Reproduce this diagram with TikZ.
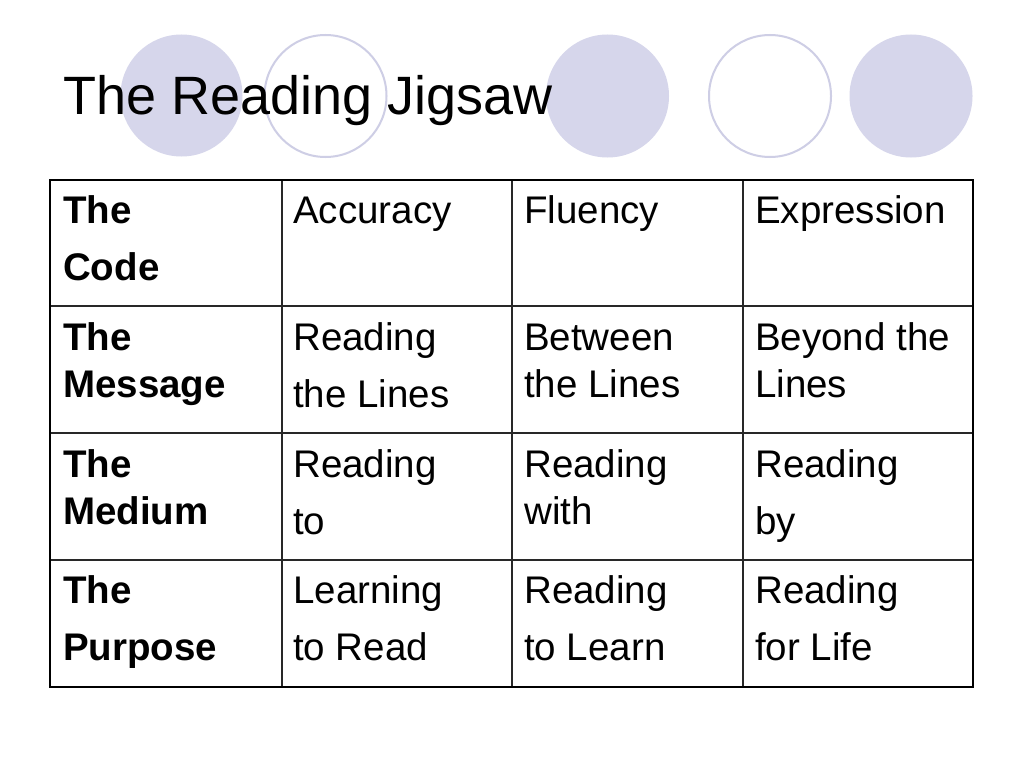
\documentclass[tikz,border=0pt]{standalone}
\usepackage{fontspec}
\setmainfont{Liberation Sans}
\definecolor{lav}{RGB}{214,214,235}
\definecolor{lavline}{RGB}{206,206,229}
\definecolor{gridc}{RGB}{40,40,40}
\tikzset{
  dot/.style={fill=lav, draw=none},
  ring/.style={draw=lavline, line width=2pt, fill=white},
  cell/.style={anchor=base west, inner sep=0pt, font=\fontsize{38.5}{47}\selectfont},
  head/.style={anchor=base west, inner sep=0pt, font=\fontsize{38.5}{47}\selectfont\bfseries},
  inner/.style={draw=gridc, line width=1.5pt},
  outer/.style={draw=black, line width=2.7pt}
}
\newcommand{\cellbox}[1]{\parbox[t]{215pt}{\raggedright #1}}
\begin{document}
\begin{tikzpicture}[x=1pt,y=-1pt]
\useasboundingbox (0,0) rectangle (1024,768);
\fill[white] (0,0) rectangle (1024,768);
% decorative circles
\path[dot] (181.5,95.5) circle (61);
\path[ring] (325.5,96) circle (61);
\path[dot] (607.5,96) circle (61.5);
\path[ring] (770,96) circle (61);
\path[dot] (911,96) circle (61.5);
% title
\node[anchor=base west, inner sep=0pt, font=\fontsize{54}{60}\selectfont] (title) at (63,114) {The Reading Jigsaw};
% grid
\draw[inner] (282,180) -- (282,687);
\draw[inner] (512,180) -- (512,687);
\draw[inner] (743,180) -- (743,687);
\draw[inner] (50,306) -- (973,306);
\draw[inner] (50,433) -- (973,433);
\draw[inner] (50,560) -- (973,560);
\draw[outer] (50,180) rectangle (973,687);
% row 1
\node[head] (c11) at (63,223) {\cellbox{The\\[10pt]Code}};
\node[cell] (c12) at (293,223) {\cellbox{Accuracy}};
\node[cell] (c13) at (524,223) {\cellbox{Fluency}};
\node[cell] (c14) at (755,223) {\cellbox{Expression}};
% row 2
\node[head] (c21) at (63,350) {\cellbox{The\\Message}};
\node[cell] (c22) at (293,350) {\cellbox{Reading\\[10pt]the Lines}};
\node[cell] (c23) at (524,350) {\cellbox{Between\\the Lines}};
\node[cell] (c24) at (755,350) {\cellbox{Beyond the\\Lines}};
% row 3
\node[head] (c31) at (63,477) {\cellbox{The\\Medium}};
\node[cell] (c32) at (293,477) {\cellbox{Reading\\[10pt]to}};
\node[cell] (c33) at (524,477) {\cellbox{Reading\\with}};
\node[cell] (c34) at (755,477) {\cellbox{Reading\\[10pt]by}};
% row 4
\node[head] (c41) at (63,603) {\cellbox{The\\[10pt]Purpose}};
\node[cell] (c42) at (293,603) {\cellbox{Learning\\[10pt]to Read}};
\node[cell] (c43) at (524,603) {\cellbox{Reading\\[10pt]to Learn}};
\node[cell] (c44) at (755,603) {\cellbox{Reading\\[10pt]for Life}};
\end{tikzpicture}
\end{document}
